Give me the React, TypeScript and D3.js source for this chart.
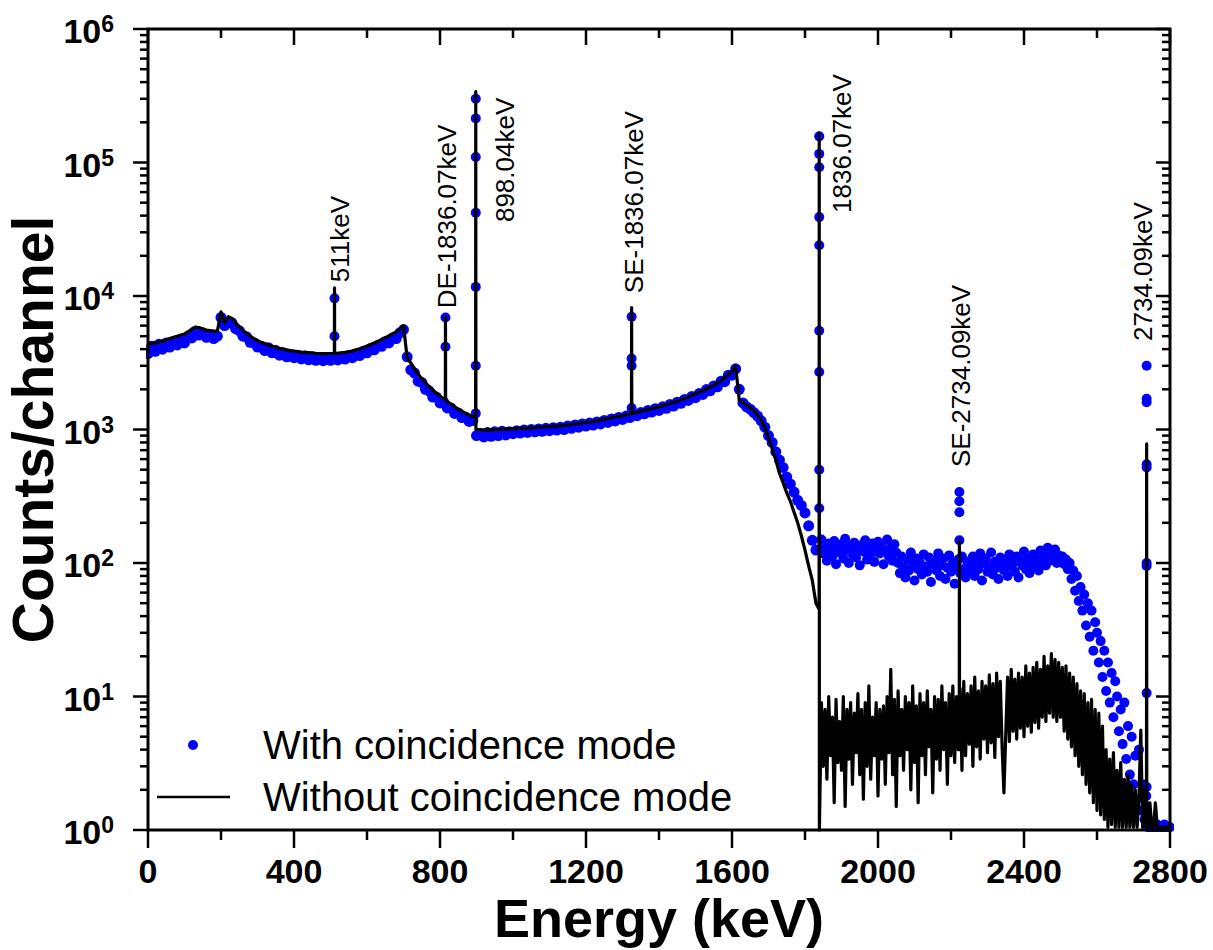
import React from 'react';
import * as d3 from 'd3';

// continuum, 0 .. 1830 keV every 10 keV
const continuumStep = 10;
const continuumBlack = [
  4450, 4400, 4450, 4550, 4600, 4700, 4800, 4900, 5000, 5100,
  5200, 5400, 5650, 5850, 5800, 5650, 5550, 5500, 5450, 5450,
  7600, 6300, 7000, 6800, 6300, 5900, 5550, 5250, 5000, 4800,
  4650, 4500, 4400, 4300, 4200, 4150, 4050, 4000, 3950, 3900,
  3870, 3830, 3800, 3780, 3760, 3740, 3720, 3710, 3700, 3700,
  3710, 3720, 3730, 3750, 3780, 3820, 3880, 3950, 4030, 4120,
  4220, 4330, 4450, 4580, 4720, 4870, 5030, 5200, 5380, 5650,
  6000, 3450, 3150, 2850, 2600, 2400, 2250, 2100, 1980, 1870,
  1780, 1700, 1620, 1550, 1480, 1420, 1370, 1320, 1280, 1250,
  1000, 1000, 990, 990, 995, 1000, 1000, 1005, 1005, 1010,
  1010, 1015, 1020, 1020, 1025, 1030, 1035, 1040, 1045, 1050,
  1050, 1055, 1060, 1070, 1075, 1080, 1090, 1100, 1110, 1120,
  1130, 1140, 1150, 1165, 1180, 1190, 1210, 1225, 1240, 1255,
  1270, 1290, 1310, 1330, 1350, 1370, 1390, 1410, 1435, 1455,
  1480, 1510, 1540, 1570, 1600, 1630, 1670, 1710, 1750, 1800,
  1850, 1900, 1960, 2020, 2080, 2150, 2230, 2330, 2450, 2580,
  2750, 2980, 1650, 1600, 1530, 1460, 1380, 1290, 1180, 1030,
  870, 720, 590, 470, 400, 335, 290, 240, 200, 160,
  125, 95, 74, 50,
];
const continuumBlue = [
  3700, 4200, 3850, 4350, 4000, 4450, 4150, 4550, 4300, 4700,
  4450, 4950, 4850, 5450, 5100, 5300, 4900, 5150, 4800, 5000,
  6900, 6000, 6300, 6300, 5700, 5500, 5000, 4950, 4500, 4450,
  4150, 4200, 3900, 4100, 3750, 3900, 3600, 3750, 3500, 3650,
  3450, 3600, 3380, 3550, 3330, 3500, 3300, 3450, 3280, 3450,
  3300, 3450, 3320, 3500, 3370, 3580, 3450, 3680, 3580, 3850,
  3750, 4050, 3950, 4250, 4200, 4550, 4450, 4850, 4800, 5300,
  5600, 3500, 2800, 2650, 2300, 2250, 2000, 1950, 1750, 1750,
  1580, 1600, 1450, 1450, 1320, 1330, 1230, 1240, 1150, 1170,
  900, 930, 880, 950, 890, 960, 900, 970, 910, 960,
  930, 980, 940, 990, 950, 1000, 960, 1010, 970, 1020,
  980, 1030, 990, 1040, 1000, 1060, 1020, 1080, 1040, 1100,
  1060, 1120, 1080, 1140, 1100, 1170, 1130, 1200, 1160, 1230,
  1190, 1260, 1230, 1300, 1270, 1340, 1310, 1390, 1350, 1430,
  1390, 1480, 1440, 1540, 1500, 1600, 1570, 1680, 1650, 1770,
  1730, 1860, 1830, 1990, 1950, 2120, 2090, 2300, 2280, 2550,
  2550, 2850, 2000, 1580, 1480, 1420, 1340, 1260, 1160, 1040,
  900, 800, 680, 590, 520, 440, 390, 340, 295, 270,
  237, 190, 148, 125,
];

// high-energy part, 1845 .. 2800 keV every 5 keV
const noiseStart = 1845;
const noiseStep = 5;
const noiseBlack = [
  9, 3, 8, 2.4, 10, 3.6, 7, 1.6, 9.5, 3.2,
  6.5, 2.8, 10, 1.5, 8, 3.4, 9, 2.2, 7.5, 3.8,
  10.5, 2.6, 8, 1.7, 9, 3, 12, 2.4, 7, 3.6,
  9, 1.8,
  8, 3.4, 8.5, 2.2, 10, 3.8, 16, 2.6, 9.5, 1.5,
  11, 3.6, 8, 2.8, 10, 4, 9, 2, 12, 3.2,
  8.5, 1.6, 10.5, 3.6, 9, 2.6, 11, 4.2, 8, 1.9,
  10, 3.4, 9.5, 2.8, 12, 4, 9, 2.2, 10.5, 3.6,
  12, 3.2, 10, 4, 11.5, 2.8, 13, 3.6, 10.5, 4.4,
  12, 3, 14, 4.2, 11, 3.4, 13, 4.8, 12, 3.8,
  14.5, 4.5, 12.5, 3.5, 15, 5, 13, 4.2, 1.9, 5.2,
  14, 4.6, 16, 5.5, 13.5, 4.8, 15, 5.8, 14, 5,
  17, 6, 15, 5.4, 16.5, 6.4, 18, 5.8, 16, 7,
  20, 6.5, 17, 7.5, 21, 7,
  19, 6.5, 18, 7, 16.5, 5.5, 17, 4.8, 15, 4.2,
  14, 3.6, 12.5, 3, 11, 2.6, 10.5, 2.2, 9, 1.9,
  9.5, 1.6, 8, 1.4, 7.5, 1.3, 6,
  1.2, 4, 1.05, 3.4, 1.1, 3.8, 1.05, 2.8, 1.05, 3.2,
  1.05, 2.4, 1.05, 2.6, 1.05, 2.2, 1.05, 2, 1.05, 1.8,
  5.6, 1.05, 2, 1.05, 1.05, 1.6, 1.05, 1.05, 1.6, 1.05,
  1.05, 1.05, 1.05, 1.05, 1.05, 1.05, 1.05,
];
const noiseBlue = [
  150, 118, 132, 104, 140, 126, 112, 146, 98, 130,
  120, 138, 108, 152, 124, 100, 134, 116, 142, 110,
  128, 96, 136, 122, 148, 106, 130, 114, 140, 102,
  126, 144, 118, 134, 98, 124, 150, 112, 130, 104,
  138, 120,
  100, 84, 112, 92, 78, 106, 88, 120, 96, 74,
  108, 90, 100, 82, 116, 94, 86, 110, 72, 98,
  104, 88, 118, 80, 96, 108, 76, 92, 114, 86,
  100, 70, 94, 106, 84, 112, 90, 78, 102, 88,
  96, 112, 80, 104, 90, 118, 74, 100, 108, 86,
  94, 120, 82, 102, 92, 76, 110, 98, 88, 106,
  80, 116, 94, 100, 86, 112, 78, 104, 96, 122,
  90, 108, 84, 100, 116, 94, 106, 88, 124, 100,
  112, 96, 130, 104, 118, 108, 126, 100, 114, 106,
  112, 98, 106, 90, 100, 76, 88, 62, 80, 52,
  66, 44, 58, 34, 50, 28, 44, 22, 36, 30,
  18, 26, 14, 22, 11, 18, 9, 15, 7, 13,
  10, 5.5, 8, 4.4, 9, 3.4, 6, 2.6, 5, 2.2,
  3.6, 1.7, 4, 1.4, 2.2, 1.2, 1.8, 1.05,
  1.05, 1.1, 1.05, 1.05, 1.1, 1.05, 1.05, 1.05, 1.1, 1.05, 1.05, 1.05,
];

// full-energy, escape and annihilation peaks
const peakEnergy = [511, 815, 898, 1325, 1839, 2223, 2736];
const peakTopBlack = [11500, 6960, 339000, 8200, 166000, 148, 780];
const peakLeftBase = [3720, 1690, 1250, 1320, 45, 4, 1.05];
const peakRightBase = [3720, 1680, 1000, 1320, 1, 4, 1.05];
const peakDotsBlue = [
  [9600, 5000],
  [6900, 4170],
  [300000, 214000, 110000, 42000, 11700, 3000, 1320],
  [7000, 3400, 3000, 1450],
  [157000, 116000, 92000, 39000, 24000, 5500, 2700, 500, 257],
  [340, 290, 240, 148],
  [3000, 1700, 1600, 550, 520, 100, 95, 10.6, 2.1],
];
const peakLabels = ['511keV', 'DE-1836.07keV', '898.04keV', 'SE-1836.07keV', '1836.07keV', 'SE-2734.09keV', '2734.09keV'];
const labelEnergy = [552, 845, 1004, 1355, 1927, 2251, 2752];
const labelCount = [12700, 8100, 35800, 10500, 41900, 524, 4600];

const xMajor = [0, 400, 800, 1200, 1600, 2000, 2400, 2800];
const xMinor = [200, 600, 1000, 1400, 1800, 2200, 2600];
const yDecades = [0, 1, 2, 3, 4, 5, 6];

const FONT = '"Liberation Sans", Arial, Helvetica, sans-serif';

export default function App() {
  const width = 1213;
  const height = 950;
  const plot = { left: 148, right: 1170, top: 29, bottom: 830 };

  const x = d3.scaleLinear().domain([0, 2800]).range([plot.left, plot.right]);
  const y = d3.scaleLog().domain([1, 1e6]).range([plot.bottom, plot.top]);

  const blackPts: [number, number][] = [
    ...continuumBlack.map((v, i) => [i * continuumStep, v] as [number, number]),
    ...noiseBlack.map((v, i) => [noiseStart + i * noiseStep, v] as [number, number]),
  ];
  peakEnergy.forEach((e, i) => {
    blackPts.push([e - 0.4, peakLeftBase[i]], [e, peakTopBlack[i]], [e + 0.4, peakRightBase[i]]);
  });
  blackPts.sort((a, b) => a[0] - b[0]);

  const contDots = continuumBlue.map((v, i) => [i * continuumStep, v] as [number, number]);
  const otherDots: [number, number][] = [
    ...noiseBlue.map((v, i) => [noiseStart + i * noiseStep, v] as [number, number]),
    ...peakDotsBlue.flatMap((arr, i) => arr.map(v => [peakEnergy[i], v] as [number, number])),
  ];

  const line = d3.line<[number, number]>().x(d => x(d[0])).y(d => y(d[1]));

  const yMinor: number[] = [];
  yDecades.slice(0, -1).forEach(k => {
    for (let m = 2; m <= 9; m++) yMinor.push(m * Math.pow(10, k));
  });

  return (
    <svg width={width} height={height} style={{ position: 'absolute', left: 0, top: 0, background: '#fff' }}>
      <defs>
        <clipPath id="plotClip">
          <rect x={plot.left - 2} y={plot.top - 10} width={plot.right - plot.left + 6} height={plot.bottom - plot.top + 12} />
        </clipPath>
      </defs>

      <g clipPath="url(#plotClip)">
        {contDots.map((d, i) => (
          <circle key={'c' + i} cx={x(d[0])} cy={y(d[1])} r={5.5} fill="#0000ff" />
        ))}
        {otherDots.map((d, i) => (
          <circle key={'o' + i} cx={x(d[0])} cy={y(d[1])} r={5} fill="#0000ff" />
        ))}
        <path d={line(blackPts) || ''} fill="none" stroke="#000" strokeWidth={3.2} strokeLinejoin="round" />
      </g>

      {/* peak labels */}
      {peakLabels.map((t, i) => (
        <text key={t} transform={`translate(${x(labelEnergy[i])},${y(labelCount[i])}) rotate(-90)`}
          fontFamily={FONT} fontSize={26} fill="#000">{t}</text>
      ))}

      {/* frame */}
      <rect x={plot.left} y={plot.top} width={plot.right - plot.left} height={plot.bottom - plot.top}
        fill="none" stroke="#000" strokeWidth={3} />

      {/* x ticks */}
      {xMajor.map(v => (
        <g key={'xM' + v}>
          <line x1={x(v)} x2={x(v)} y1={plot.bottom} y2={plot.bottom + 18} stroke="#000" strokeWidth={2.5} />
          <line x1={x(v)} x2={x(v)} y1={plot.top} y2={plot.top + 16} stroke="#000" strokeWidth={2.5} />
          <text x={x(v)} y={883} textAnchor="middle" fontFamily={FONT} fontWeight="bold" fontSize={34}>{v}</text>
        </g>
      ))}
      {xMinor.map(v => (
        <g key={'xm' + v}>
          <line x1={x(v)} x2={x(v)} y1={plot.bottom} y2={plot.bottom + 10} stroke="#000" strokeWidth={2.5} />
          <line x1={x(v)} x2={x(v)} y1={plot.top} y2={plot.top + 9} stroke="#000" strokeWidth={2.5} />
        </g>
      ))}

      {/* y ticks */}
      {yDecades.map(k => {
        const py = y(Math.pow(10, k));
        return (
          <g key={'yM' + k}>
            <line x1={plot.left - 15} x2={plot.left} y1={py} y2={py} stroke="#000" strokeWidth={2.5} />
            <line x1={plot.right - 14} x2={plot.right} y1={py} y2={py} stroke="#000" strokeWidth={2.5} />
            <text x={114} y={py + 14} textAnchor="end" fontFamily={FONT} fontWeight="bold" fontSize={34}>
              10<tspan dy={-11} fontSize={23}>{k}</tspan>
            </text>
          </g>
        );
      })}
      {yMinor.map(v => (
        <g key={'ym' + v}>
          <line x1={plot.left - 8} x2={plot.left} y1={y(v)} y2={y(v)} stroke="#000" strokeWidth={2.5} />
          <line x1={plot.right - 8} x2={plot.right} y1={y(v)} y2={y(v)} stroke="#000" strokeWidth={2.5} />
        </g>
      ))}

      {/* axis titles */}
      <text x={(plot.left + plot.right) / 2} y={937} textAnchor="middle" fontFamily={FONT} fontWeight="bold" fontSize={54}>
        Energy (keV)
      </text>
      <text transform={`translate(53,${(plot.top + plot.bottom) / 2}) rotate(-90)`} textAnchor="middle"
        fontFamily={FONT} fontWeight="bold" fontSize={57}>
        Counts/channel
      </text>

      {/* legend */}
      <circle cx={193} cy={745} r={5} fill="#0000ff" />
      <text x={263} y={759} fontFamily={FONT} fontSize={40}>With coincidence mode</text>
      <line x1={157} x2={230} y1={797} y2={797} stroke="#000" strokeWidth={2.5} />
      <text x={263} y={811} fontFamily={FONT} fontSize={40}>Without coincidence mode</text>
    </svg>
  );
}
